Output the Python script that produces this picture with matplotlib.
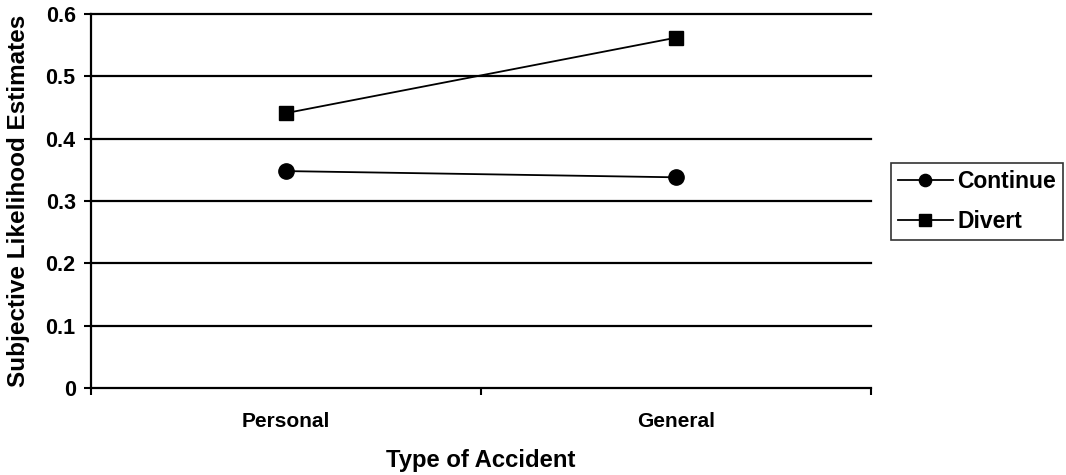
import numpy as np
from matplotlib import pyplot as plt
from matplotlib.ticker import FixedLocator, NullFormatter

plt.rcParams['font.family'] = ['Liberation Sans', 'DejaVu Sans']
plt.rcParams['font.weight'] = 'bold'

categories = ['Personal', 'General']
continue_vals = [0.348, 0.338]
divert_vals = [0.441, 0.562]
y_ticks = [0, 0.1, 0.2, 0.3, 0.4, 0.5, 0.6]

fig = plt.figure(figsize=(10.66, 4.75), dpi=100)
ax = fig.add_axes([91/1066, 1 - 388/475, 780/1066, 374/475])

x = np.arange(len(categories)) + 0.5
ax.plot(x, continue_vals, color='black', lw=1.3, marker='o', ms=11, label='Continue')
ax.plot(x, divert_vals, color='black', lw=1.3, marker='s', ms=10.5, label='Divert')

ax.set_xlim(0, 2)
ax.set_ylim(0, 0.6)
ax.set_yticks(y_ticks)
ax.set_yticklabels(['0', '0.1', '0.2', '0.3', '0.4', '0.5', '0.6'])
for v in y_ticks[1:]:
    ax.axhline(v, color='black', lw=1.6, zorder=0, clip_on=False)

ax.xaxis.set_major_locator(FixedLocator([0, 1, 2]))
ax.xaxis.set_major_formatter(NullFormatter())
ax.xaxis.set_minor_locator(FixedLocator(x))
ax.set_xticklabels(categories, minor=True)
ax.tick_params(axis='x', which='minor', length=0, pad=17, labelsize=15)
ax.tick_params(axis='x', which='major', length=5, width=1.5)
ax.tick_params(axis='y', length=5, width=1.5, labelsize=15.5, pad=6)

for s in ['top', 'right']:
    ax.spines[s].set_visible(False)
for s in ['left', 'bottom']:
    ax.spines[s].set_linewidth(1.6)

ax.set_xlabel('Type of Accident', fontsize=17.2, fontweight='bold', labelpad=13)
ax.set_ylabel('Subjective Likelihood Estimates', fontsize=17.5, fontweight='bold', labelpad=11)

leg = fig.legend(loc='upper left', bbox_to_anchor=(891/1066, 1 - 163/475), fontsize=16.5,
                 frameon=True, fancybox=False, edgecolor='black', handlelength=2.4,
                 borderpad=0.3, labelspacing=0.75, handletextpad=0.2, borderaxespad=0,
                 markerscale=0.8)
leg.get_frame().set_linewidth(1.2)

plt.savefig('out.png', dpi=100)
